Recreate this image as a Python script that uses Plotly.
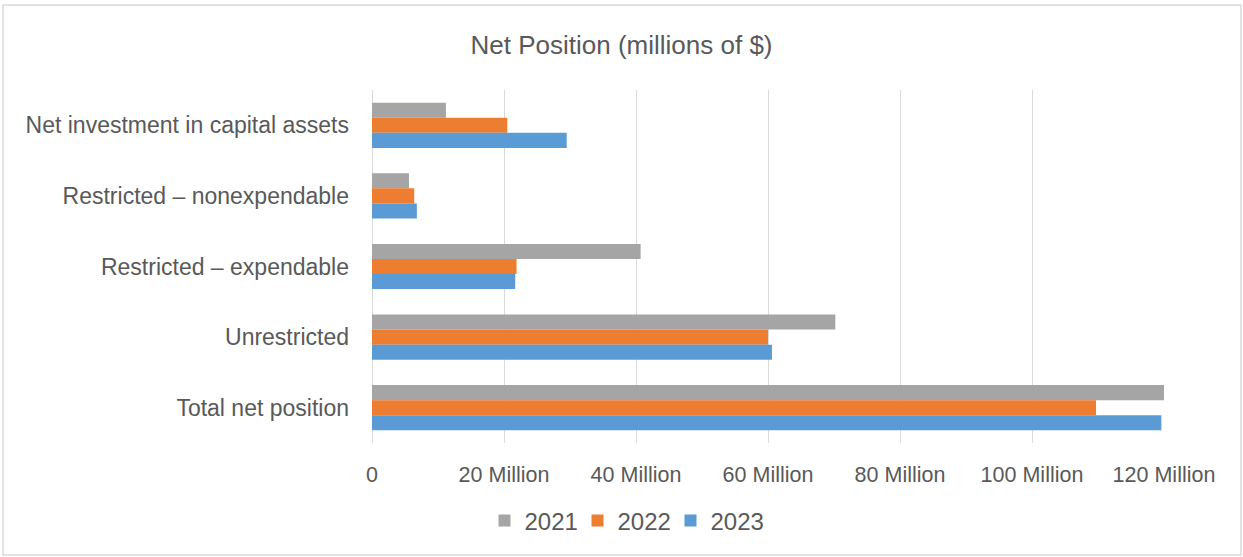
import plotly.graph_objects as go

categories = ["Net investment in capital assets", "Restricted – nonexpendable",
              "Restricted – expendable", "Unrestricted", "Total net position"]
years = ["2021", "2022", "2023"]
values_2021 = [11.2, 5.6, 40.7, 70.2, 120.3]
values_2022 = [20.5, 6.4, 21.9, 60.0, 109.7]
values_2023 = [29.5, 6.8, 21.7, 60.6, 119.6]
colors = ["#A5A5A5", "#ED7D31", "#5B9BD5"]
tick_vals = [0, 20, 40, 60, 80, 100, 120]
tick_text = ["0", "20 Million", "40 Million", "60 Million", "80 Million", "100 Million", "120 Million"]

series = [values_2021, values_2022, values_2023]
font_family = "Liberation Sans, Arial, sans-serif"
text_color = "#595959"

fig = go.Figure()
for yr, vals, col in zip(years, series, colors):
    fig.add_trace(go.Bar(y=categories, x=vals, name=yr, orientation="h",
                         marker=dict(color=col, line=dict(width=0))))

W, H = 1243, 557
L, R, T, B = 372, 79, 90, 114
pw, ph = W - L - R, H - T - B

fig.update_layout(
    width=W, height=H,
    margin=dict(l=L, r=R, t=T, b=B, autoexpand=False),
    paper_bgcolor="white", plot_bgcolor="white",
    barmode="group", bargap=0.36, bargroupgap=0,
    font=dict(family=font_family, color=text_color, size=22),
    title=dict(text="Net Position (millions of $)", x=0.5, xref="container", xanchor="center",
               y=1 - 45 / H, yref="container", yanchor="middle",
               font=dict(size=26, color=text_color, family=font_family)),
    xaxis=dict(range=[0, 120], tickvals=tick_vals, ticktext=tick_text,
               showgrid=True, gridcolor="#D9D9D9", gridwidth=1,
               zeroline=True, zerolinecolor="#D9D9D9", zerolinewidth=1,
               showline=False, ticks="", ticklabelstandoff=16, tickangle=0,
               automargin=False, tickfont=dict(size=21.5, color=text_color)),
    yaxis=dict(autorange="reversed", showgrid=False, zeroline=False, showline=False,
               ticks="", ticklabelstandoff=22, automargin=False,
               tickfont=dict(size=23, color=text_color)),
    legend=dict(orientation="h", x=(624 - L) / pw, xanchor="center",
                y=-(521 - (T + ph)) / ph, yanchor="middle",
                font=dict(size=24, color=text_color), traceorder="normal",
                itemwidth=30, entrywidth=48, entrywidthmode="pixels"),
    showlegend=True,
)

# outer chart border
fig.add_shape(type="rect", xref="paper", yref="paper",
              x0=(3 - L) / pw, x1=(1241 - L) / pw,
              y0=-(555 - (T + ph)) / ph, y1=1 + (T - 5) / ph,
              line=dict(color="#D9D9D9", width=1.5), fillcolor="rgba(0,0,0,0)", layer="below")

fig.write_html("out.html", config={"displayModeBar": False},
               post_script="document.body.style.margin='0';")
